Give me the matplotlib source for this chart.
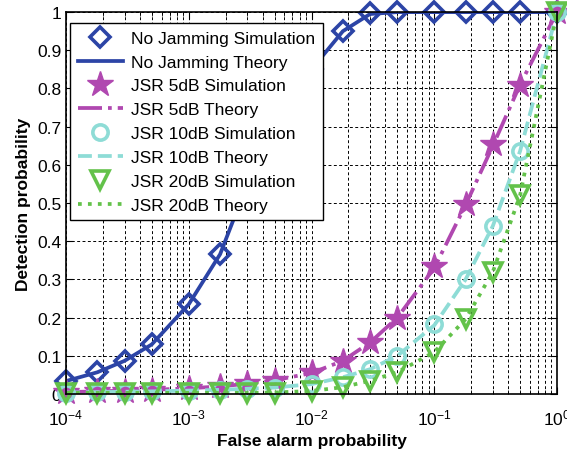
import numpy as np
import matplotlib
matplotlib.use("Agg")
import matplotlib.pyplot as plt

plt.rcParams['font.family'] = ['Liberation Sans', 'DejaVu Sans']
plt.rcParams['mathtext.fontset'] = 'custom'
plt.rcParams['mathtext.rm'] = 'Liberation Sans'
plt.rcParams['mathtext.default'] = 'regular'

# ---------------------------
# data
# ---------------------------
pfa = [1e-4, 1.8e-4, 3e-4, 5e-4, 1e-3, 1.8e-3, 3e-3, 5e-3, 1e-2,
       1.8e-2, 3e-2, 5e-2, 1e-1, 0.18, 0.3, 0.5, 1.0]

nojam_sim = [0.034, 0.057, 0.087, 0.13, 0.235, 0.366, 0.55, 0.70, 0.85,
             0.95, 0.997, 1.0, 1.0, 1.0, 1.0, 1.0, 1.0]
nojam_th = [0.034, 0.057, 0.087, 0.13, 0.235, 0.366, 0.55, 0.70, 0.85,
            0.95, 0.995, 1.0, 1.0, 1.0, 1.0, 1.0, 1.0]

jsr5_sim = [0.005, 0.007, 0.009, 0.011, 0.015, 0.02, 0.03, 0.038, 0.057,
            0.087, 0.135, 0.20, 0.335, 0.497, 0.654, 0.81, 1.0]
jsr5_th = [0.005, 0.007, 0.009, 0.011, 0.015, 0.02, 0.027, 0.036, 0.055,
           0.087, 0.135, 0.20, 0.33, 0.495, 0.65, 0.81, 1.0]

jsr10_sim = [0.004, 0.005, 0.006, 0.007, 0.009, 0.011, 0.014, 0.017, 0.026,
             0.044, 0.065, 0.10, 0.183, 0.30, 0.44, 0.636, 1.0]
jsr10_th = [0.004, 0.005, 0.006, 0.007, 0.009, 0.011, 0.014, 0.017, 0.026,
            0.044, 0.065, 0.10, 0.18, 0.30, 0.44, 0.636, 1.0]

jsr20_sim = [0.003, 0.003, 0.003, 0.003, 0.003, 0.003, 0.003, 0.003, 0.008,
             0.018, 0.035, 0.057, 0.11, 0.196, 0.32, 0.52, 1.0]
jsr20_th = [0.003, 0.003, 0.003, 0.003, 0.003, 0.003, 0.003, 0.004, 0.008,
            0.018, 0.035, 0.057, 0.11, 0.196, 0.32, 0.52, 1.0]

BLUE = '#2c44a6'
MAGENTA = '#b048b0'
CYAN = '#8edcd6'
GREEN = '#63c24a'

fig = plt.figure(figsize=(5.67, 4.52), dpi=100)
ax = fig.add_axes([0.1164, 0.126, 0.866, 0.845])

lw = 2.7
mew = 2.6
# markers are drawn unclipped, like the MATLAB original
ax.plot(pfa, nojam_sim, 'D', color=BLUE, mfc='none', mew=mew, ms=10,
        clip_on=False, label='No Jamming Simulation')
ax.plot(pfa, nojam_th, '-', color=BLUE, lw=lw, label='No Jamming Theory')
ax.plot(pfa, jsr5_sim, '*', color=MAGENTA, mfc=MAGENTA, mew=1, ms=19,
        clip_on=False, label='JSR 5dB Simulation')
ax.plot(pfa, jsr5_th, '-.', color=MAGENTA, lw=lw, label='JSR 5dB Theory')
ax.plot(pfa, jsr10_sim, 'o', color=CYAN, mfc='none', mew=mew, ms=11,
        clip_on=False, label='JSR 10dB Simulation')
ax.plot(pfa, jsr10_th, '--', color=CYAN, lw=lw, label='JSR 10dB Theory')
ax.plot(pfa, jsr20_sim, 'v', color=GREEN, mfc='none', mew=mew, ms=13,
        clip_on=False, label='JSR 20dB Simulation')
ax.plot(pfa, jsr20_th, ':', color=GREEN, lw=lw, label='JSR 20dB Theory')

ax.set_xscale('log')
ax.set_xlim(1e-4, 1)
ax.set_ylim(0, 1)
ax.set_yticks(np.arange(0, 1.01, 0.1))
ax.set_yticklabels(['0', '0.1', '0.2', '0.3', '0.4', '0.5', '0.6', '0.7',
                    '0.8', '0.9', '1'])
ax.set_xticks([1e-4, 1e-3, 1e-2, 1e-1, 1])
ax.set_xticklabels(['$10^{-4}$', '$10^{-3}$', '$10^{-2}$', '$10^{-1}$', '$10^{0}$'])

ax.grid(True, which='both', color='black', linestyle=(0, (3, 2.5)), lw=0.7)
ax.set_axisbelow(True)
ax.tick_params(which='both', direction='in', top=True, right=True,
               labelsize=12.5)
ax.tick_params(which='major', length=5)
ax.tick_params(which='minor', length=3)
ax.tick_params(axis='x', pad=10)
for s in ax.spines.values():
    s.set_linewidth(1.2)

ax.set_xlabel('False alarm probability', fontsize=12.5, fontweight='bold',
              labelpad=4)
ax.set_ylabel('Detection probability', fontsize=12.5, fontweight='bold',
              labelpad=4)

leg = ax.legend(loc='upper left', bbox_to_anchor=(0.008, 0.972),
                borderaxespad=0, fontsize=12.5, frameon=True, fancybox=False,
                edgecolor='black', handlelength=2.6, labelspacing=0.5,
                handletextpad=0.45, borderpad=0.45)
leg.get_frame().set_linewidth(1.0)
leg.get_frame().set_alpha(1)

fig.savefig('out.png', dpi=100)
